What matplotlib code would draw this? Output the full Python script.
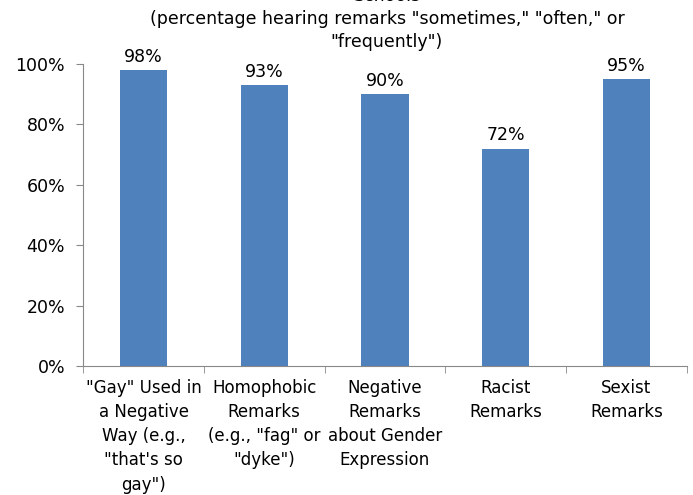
import matplotlib
matplotlib.use("Agg")
import matplotlib.pyplot as plt
import numpy as np

plt.rcParams['font.family'] = ['DejaVu Sans']

categories = ['"Gay" Used in\na Negative\nWay (e.g.,\n"that\'s so\ngay")',
              'Homophobic\nRemarks\n(e.g., "fag" or\n"dyke")',
              'Negative\nRemarks\nabout Gender\nExpression',
              'Racist\nRemarks',
              'Sexist\nRemarks']
values = [98, 93, 90, 72, 95]
yticks = [0, 20, 40, 60, 80, 100]

fs = 12
fig = plt.figure(figsize=(6.93, 4.95), dpi=100)
ax = fig.add_axes([0.120, 0.2606, 0.871, 0.6101])

x = np.arange(len(values))
ax.bar(x, values, width=0.39, color='#4F81BD')
for xi, v in zip(x, values):
    ax.text(xi, v + 1.5, f'{v}%', ha='center', va='bottom', fontsize=fs + 0.5)

ax.set_xlim(-0.5, len(values) - 0.5)
ax.set_ylim(0, 100)
ax.set_yticks(yticks)
ax.set_yticklabels([f'{t}%' for t in yticks], fontsize=fs + 0.5)
ax.set_xticks(x)
ax.set_xticklabels(categories, fontsize=fs, linespacing=1.45)
ax.tick_params(axis='x', length=0, pad=9)
ax.set_xticks(np.arange(len(values) + 1) - 0.5, minor=True)
ax.tick_params(axis='x', which='minor', length=5, color='#888888')
ax.tick_params(axis='y', length=5, color='#888888', pad=8)

for s in ['top', 'right']:
    ax.spines[s].set_visible(False)
for s in ['left', 'bottom']:
    ax.spines[s].set_color('#888888')

fig.text(387 / 693, 1 + 4 / 495, 'Schools', ha='center', va='center', fontsize=fs + 0.5)
fig.text(387 / 693, 1 - 19 / 495, '(percentage hearing remarks "sometimes," "often," or',
         ha='center', va='center', fontsize=fs + 0.5)
fig.text(387 / 693, 1 - 42 / 495, '"frequently")', ha='center', va='center', fontsize=fs + 0.5)

fig.savefig('out.png', dpi=100)
